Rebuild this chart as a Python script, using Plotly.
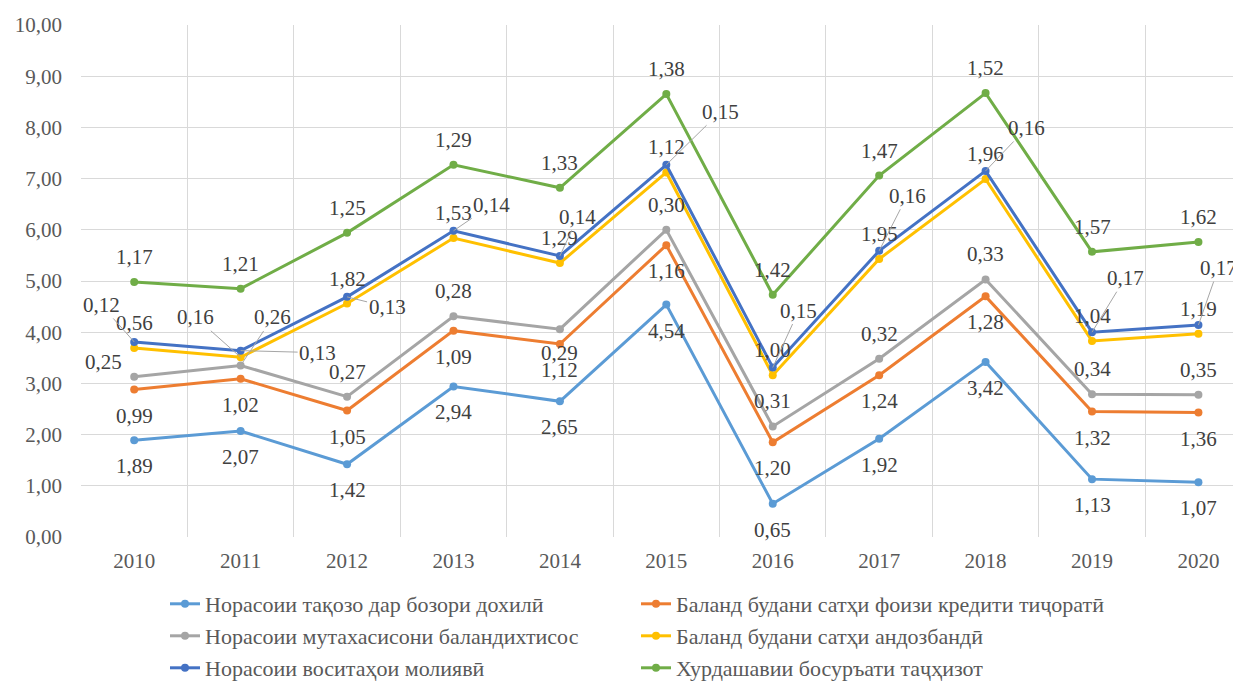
import numpy as np
import plotly.graph_objects as go

years = ["2010", "2011", "2012", "2013", "2014", "2015", "2016", "2017", "2018", "2019", "2020"]
series_names = [
    "Норасоии тақозо дар бозори дохилӣ",
    "Баланд будани сатҳи фоизи кредити тиҷоратӣ",
    "Норасоии мутахасисони баландихтисос",
    "Баланд будани сатҳи андозбандӣ",
    "Норасоии воситаҳои молиявӣ",
    "Хурдашавии босуръати таҷҳизот",
]
s1 = [1.89, 2.07, 1.42, 2.94, 2.65, 4.54, 0.65, 1.92, 3.42, 1.13, 1.07]
s2 = [0.99, 1.02, 1.05, 1.09, 1.12, 1.16, 1.20, 1.24, 1.28, 1.32, 1.36]
s3 = [0.25, 0.26, 0.27, 0.28, 0.29, 0.30, 0.31, 0.32, 0.33, 0.34, 0.35]
s4 = [0.56, 0.16, 1.82, 1.53, 1.29, 1.12, 1.00, 1.95, 1.96, 1.04, 1.19]
s5 = [0.12, 0.13, 0.13, 0.14, 0.14, 0.15, 0.15, 0.16, 0.16, 0.17, 0.17]
s6 = [1.17, 1.21, 1.25, 1.29, 1.33, 1.38, 1.42, 1.47, 1.52, 1.57, 1.62]
y_ticks = [0, 1, 2, 3, 4, 5, 6, 7, 8, 9, 10]

colors = ["#5B9BD5", "#ED7D31", "#A5A5A5", "#FFC000", "#4472C4", "#70AD47"]

# label placement (pixel offsets: dx right, dy down)
ABOVE, BELOW = (0, -25), (0, 26)
label_offsets = [
    [BELOW] * 11,
    [BELOW] * 11,
    [(-31, -15), (32, -48), ABOVE, ABOVE, (0, 24), ABOVE, ABOVE, ABOVE, ABOVE, ABOVE, ABOVE],
    [ABOVE, (-45, -40), ABOVE, ABOVE, ABOVE, ABOVE, ABOVE, ABOVE, ABOVE, ABOVE, ABOVE],
    [(-33, -37), (77, 2), (40, 10), (38, -26), (18, -39), (54, -53), (26, -57), (28, -55), (41, -43), (33, -54), (20, -57)],
    [ABOVE] * 11,
]
leader = [
    [False] * 11,
    [False] * 11,
    [False, True] + [False] * 9,
    [False, True] + [False] * 9,
    [True] * 11,
    [False] * 11,
]
legend_of = ["legend", "legend", "legend2", "legend2", "legend3", "legend3"]

data = [s1, s2, s3, s4, s5, s6]
cum = np.cumsum(np.array(data), axis=0)
x = list(range(len(years)))

# page body has an 8px margin; figure is sized/positioned to compensate
W, H = 1233, 676
font_family = "Liberation Serif"
fig = go.Figure()
for k in range(6):
    fig.add_trace(go.Scatter(
        x=x, y=cum[k], mode="lines+markers", name=series_names[k],
        line=dict(color=colors[k], width=3),
        marker=dict(color=colors[k], size=8),
        legend=legend_of[k],
    ))

annotations = []
for k in range(6):
    for i in range(len(years)):
        dx, dy = label_offsets[k][i]
        txt = f"{data[k][i]:.2f}".replace(".", ",")
        if leader[k][i]:
            annotations.append(dict(
                x=x[i], y=cum[k][i], xref="x", yref="y", text=txt,
                showarrow=True, arrowhead=0, arrowwidth=1, arrowcolor="#A6A6A6",
                ax=dx, ay=dy, standoff=0,
                font=dict(family=font_family, size=21, color="#404040"),
            ))
        else:
            annotations.append(dict(
                x=x[i], y=cum[k][i], xref="x", yref="y", text=txt,
                showarrow=False, xshift=dx, yshift=-dy,
                font=dict(family=font_family, size=21, color="#404040"),
            ))

legend_common = dict(
    orientation="h", xref="container", xanchor="left", yref="container", yanchor="middle",
    entrywidth=426, entrywidthmode="pixels", itemwidth=30,
    font=dict(family=font_family, size=22, color="#595959"),
    bgcolor="rgba(0,0,0,0)",
)
row_y = [596, 628, 660]
leg_x = 157 / W

fig.update_layout(
    width=W, height=H,
    margin=dict(l=73, r=0, t=17, b=147, autoexpand=False),
    paper_bgcolor="white", plot_bgcolor="white",
    separators=", ",
    font=dict(family=font_family, size=21, color="#595959"),
    annotations=annotations,
    showlegend=True,
    legend=dict(legend_common, x=leg_x, y=1 - row_y[0] / H),
    legend2=dict(legend_common, x=leg_x, y=1 - row_y[1] / H),
    legend3=dict(legend_common, x=leg_x, y=1 - row_y[2] / H),
)
fig.update_xaxes(
    range=[-0.5, 10.40], tickvals=x, ticktext=years, showgrid=False,
    zeroline=False, showline=False, ticks="", ticklabelstandoff=9,
    minor=dict(tickvals=[i - 0.5 for i in range(12)], showgrid=True, gridcolor="#D9D9D9", gridwidth=1, ticks=""),
    tickfont=dict(family=font_family, size=21, color="#595959"),
)
fig.update_yaxes(
    range=[0, 10], tickvals=y_ticks, tickformat=".2f", showgrid=True,
    gridcolor="#D9D9D9", gridwidth=1, zeroline=False, showline=False, ticks="",
    ticklabelstandoff=18,
    tickfont=dict(family=font_family, size=21, color="#595959"),
)

fig.write_html("out.html")
